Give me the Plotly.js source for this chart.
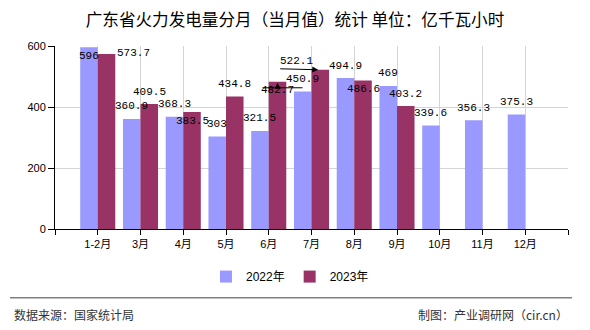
<!DOCTYPE html>
<html>
<head>
<meta charset="utf-8">
<script src="https://cdn.plot.ly/plotly-3.0.1.min.js"></script>
<style>html,body{margin:0;padding:0;background:#fff;}#chart{width:590px;height:330px;}</style>
</head>
<body>
<div id="chart"></div>
<script>
// ---- data ----
const months = ['1-2月','3月','4月','5月','6月','7月','8月','9月','10月','11月','12月'];
const values2022 = [596, 360.9, 368.3, 303, 321.5, 450.9, 494.9, 469, 339.6, 356.3, 375.3];
const values2023 = [573.7, 409.5, 383.5, 434.8, 482.7, 522.1, 486.6, 403.2, null, null, null];
const seriesNames = ['2022年', '2023年'];
// label placement style (not data)
const labelPos2022 = ['in','out','out','out','out','out','out','out','out','out','out'];
const labelPos2023 = ['right','out','in','out','in','callout','in','out', null, null, null];

const idx = months.map((m, i) => i);
const tickVals = [-1].concat(idx).concat([months.length]);
const tickText = [''].concat(months).concat(['']);

const labelFont = {family: 'Liberation Mono, DejaVu Sans Mono, monospace', size: 11, color: '#000'};
const cjk = 'Liberation Sans, Noto Sans CJK SC, sans-serif';
const half = 0.205;

const traces = [
  {type: 'bar', name: seriesNames[0], x: idx, y: values2022, marker: {color: '#9999FF'}, hoverinfo: 'none'},
  {type: 'bar', name: seriesNames[1], x: idx, y: values2023, marker: {color: '#993366'}, hoverinfo: 'none'}
];

const annotations = [];
function addLabels(vals, pos, off) {
  vals.forEach((v, i) => {
    if (v === null || pos[i] === null) return;
    const a = {x: i + off, y: v, xref: 'x', yref: 'y', text: String(v), showarrow: false,
               font: labelFont, yanchor: 'middle', xanchor: 'center'};
    if (pos[i] === 'out') { a.yshift = 12.5; }
    else if (pos[i] === 'in') { a.yshift = -8.5; }
    else if (pos[i] === 'right') { a.xanchor = 'left'; a.xshift = 8; a.yshift = 1; }
    else if (pos[i] === 'callout') {
      a.xshift = -24; a.yshift = 9;
      annotations.push({x: i + off, y: v, xref: 'x', yref: 'y', text: ' ', showarrow: true,
        arrowhead: 2, arrowsize: 1.2, arrowwidth: 1, arrowcolor: '#000', ax: -40, ay: -1, xshift: -2, standoff: 0,
        font: {size: 2}});
    }
    annotations.push(a);
  });
}
addLabels(values2022, labelPos2022, -half);
addLabels(values2023, labelPos2023, half);

// callout line and up-arrow over the 6月 2023 bar
annotations.push({x: 4 + half, y: values2023[4], xref: 'x', yref: 'y', text: ' ', showarrow: true,
  arrowhead: 0, arrowwidth: 1, arrowcolor: '#000', ax: -42, ay: 0, xshift: 25, yshift: -6, font: {size: 2}});
annotations.push({x: 4 + half, y: values2023[4], xref: 'x', yref: 'y', text: ' ', showarrow: true,
  arrowhead: 2, arrowsize: 1.2, arrowwidth: 1, arrowcolor: '#000', ax: 0, ay: 6, xshift: 0, yshift: -1, standoff: 0, font: {size: 2}});

// footer texts
annotations.push({xref: 'paper', yref: 'paper', x: -0.084, y: -0.467, xanchor: 'left', yanchor: 'middle',
  text: '数据来源：国家统计局', showarrow: false, font: {family: 'Noto Sans CJK SC, sans-serif', size: 12, color: '#333'}});
annotations.push({xref: 'paper', yref: 'paper', x: 1.004, y: -0.467, xanchor: 'right', yanchor: 'middle',
  text: '制图：产业调研网（cir.cn）', showarrow: false, font: {family: 'Noto Sans CJK SC, sans-serif', size: 12, color: '#333'}});

const layout = {
  width: 590, height: 330,
  margin: {l: 55, r: 22, t: 46, b: 100.7, pad: 0},
  paper_bgcolor: '#fff', plot_bgcolor: '#fff',
  title: {text: '广东省火力发电量分月（当月值）统计 单位：亿千瓦小时', x: 0.5, xanchor: 'center',
          y: 1 - 20/330, yanchor: 'middle', yref: 'container',
          font: {family: 'Noto Sans CJK SC, sans-serif', size: 16.6, color: '#000'}},
  barmode: 'group', bargap: 0.18, bargroupgap: 0,
  xaxis: {type: 'linear', range: [-1, months.length], tickmode: 'array', tickvals: tickVals, ticktext: tickText,
          showgrid: true, gridcolor: '#d4d4d4', gridwidth: 1, zeroline: false,
          showline: true, linecolor: '#000', linewidth: 1,
          ticks: 'outside', ticklen: 5, tickcolor: '#000', tickwidth: 1,
          tickfont: {family: cjk, size: 11, color: '#000'}, fixedrange: true},
  yaxis: {range: [0, 600], tickvals: [0, 200, 400, 600], showgrid: true, gridcolor: '#d4d4d4', gridwidth: 1,
          zeroline: false, showline: true, linecolor: '#000', linewidth: 1,
          ticks: 'outside', ticklen: 6, tickcolor: '#000', tickwidth: 1,
          tickfont: {family: 'Liberation Sans, sans-serif', size: 11, color: '#000'}, fixedrange: true},
  showlegend: true,
  legend: {orientation: 'h', x: 0.458, xanchor: 'center', y: -0.26, yanchor: 'middle',
           font: {family: cjk, size: 12, color: '#000'}, bgcolor: 'rgba(0,0,0,0)', itemwidth: 30},
  shapes: [{type: 'line', xref: 'paper', yref: 'paper', x0: -0.0877, x1: 1.0078, y0: -0.375, y1: -0.375,
            line: {color: '#808080', width: 1.5}}],
  annotations: annotations
};

Plotly.newPlot('chart', traces, layout, {displayModeBar: false, staticPlot: true});
</script>
</body>
</html>
